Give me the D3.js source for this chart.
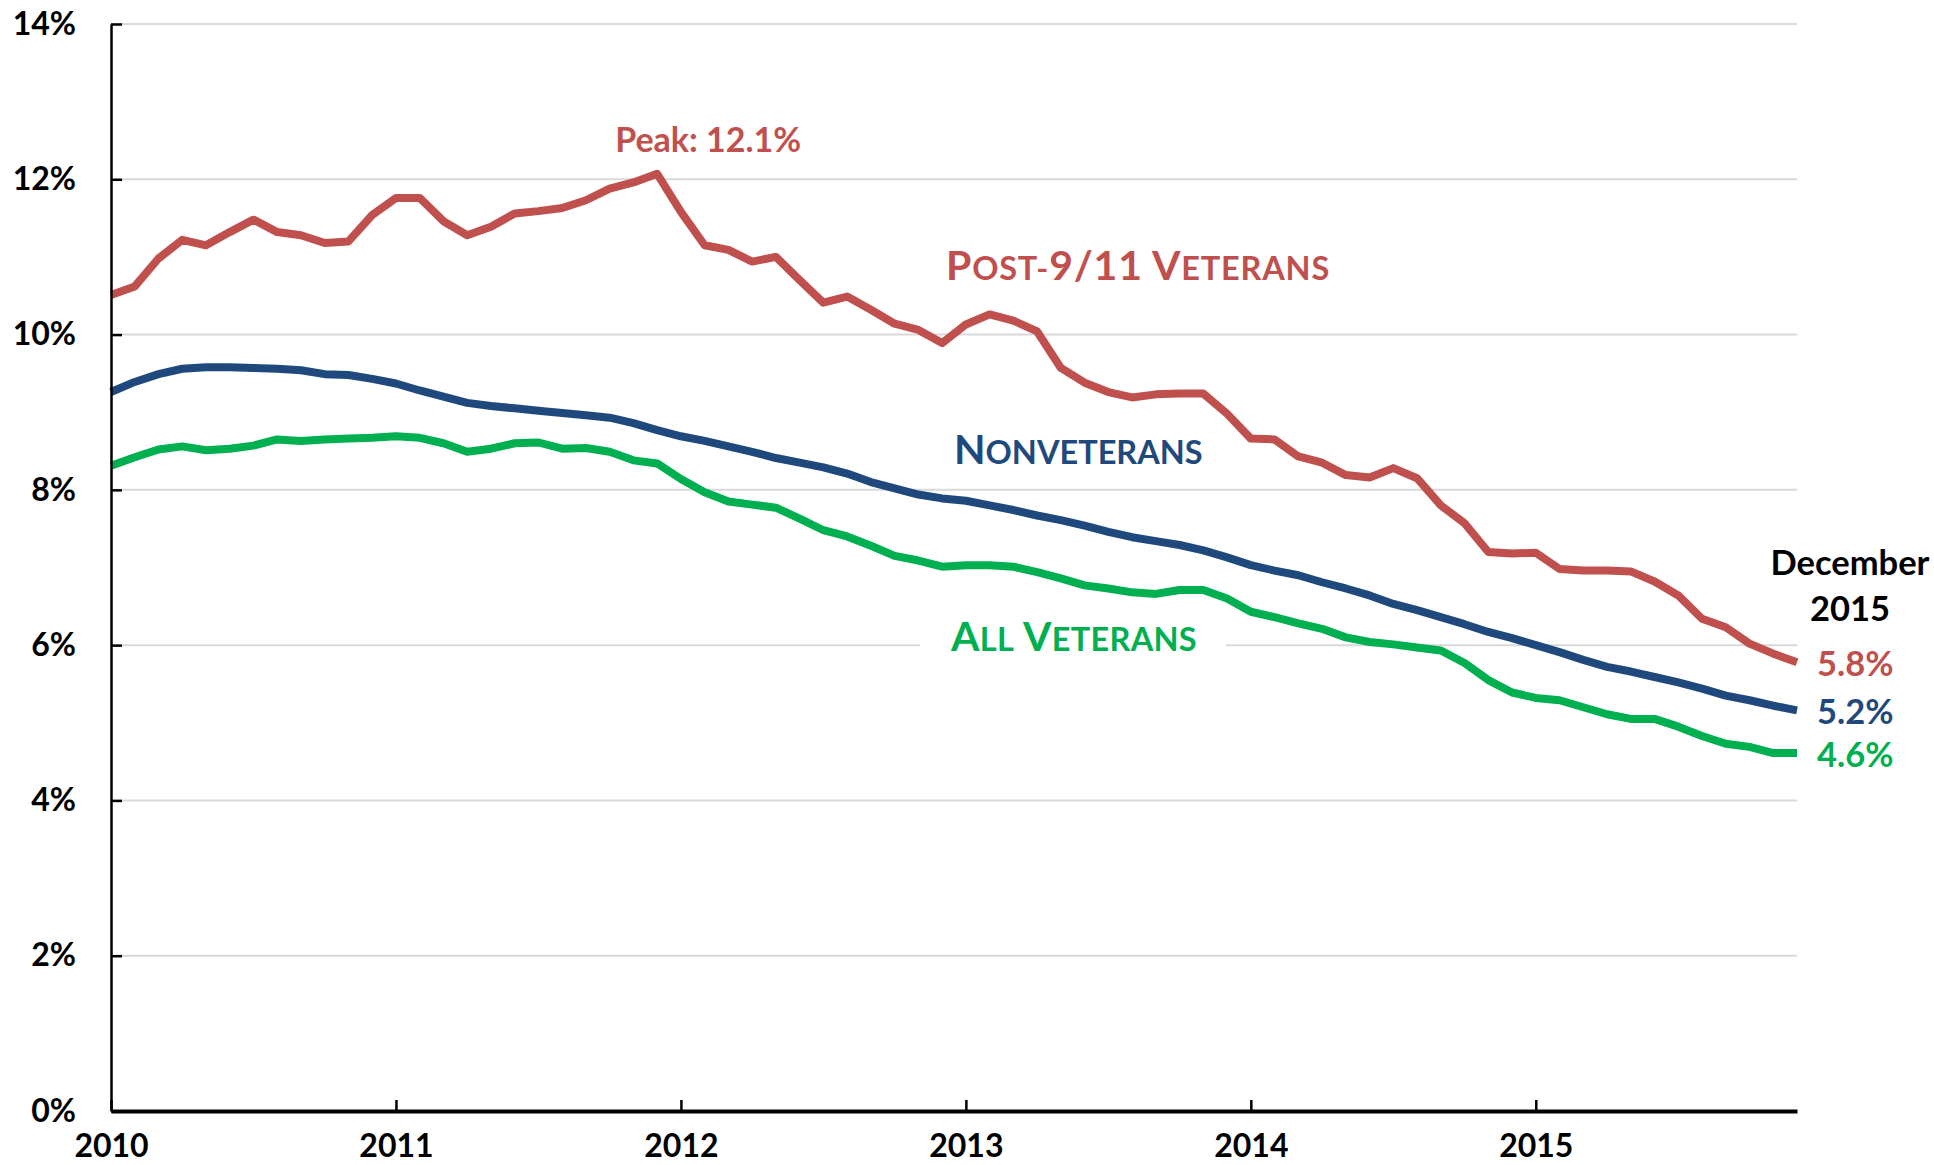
<!DOCTYPE html>
<html>
<head>
<meta charset="utf-8">
<script src="https://cdn.jsdelivr.net/npm/d3@7"></script>
<style>
	body { margin: 0; background: #fff; }
	svg { display: block; font-family: Lato, "Open Sans", sans-serif; font-weight: bold; }
</style>
</head>
<body>
<div id="chart"></div>
<script>
// monthly values, Jan 2010 - Dec 2015 (12-month averages, %)
const post911Rates = [
	10.51, 10.62, 10.98, 11.22, 11.15, 11.32, 11.48, 11.32, 11.28, 11.18, 11.20, 11.54,
	11.76, 11.76, 11.46, 11.28, 11.39, 11.56, 11.59, 11.63, 11.73, 11.88, 11.96, 12.07,
	11.58, 11.15, 11.09, 10.94, 11.00, 10.70, 10.41, 10.49, 10.32, 10.14, 10.06, 9.89,
	10.13, 10.26, 10.18, 10.04, 9.57, 9.38, 9.26, 9.19, 9.23, 9.24, 9.24, 8.98,
	8.66, 8.65, 8.43, 8.35, 8.19, 8.16, 8.28, 8.15, 7.80, 7.57, 7.20, 7.18,
	7.19, 6.98, 6.96, 6.96, 6.95, 6.82, 6.64, 6.34, 6.23, 6.02, 5.89, 5.78
];

const nonveteranRates = [
	9.26, 9.39, 9.49, 9.56, 9.58, 9.58, 9.57, 9.56, 9.54, 9.49, 9.48, 9.43,
	9.37, 9.28, 9.20, 9.12, 9.08, 9.05, 9.02, 8.99, 8.96, 8.93, 8.86, 8.77,
	8.69, 8.63, 8.56, 8.49, 8.41, 8.35, 8.29, 8.21, 8.10, 8.02, 7.94, 7.89,
	7.86, 7.80, 7.74, 7.67, 7.61, 7.54, 7.46, 7.39, 7.34, 7.29, 7.22, 7.13,
	7.03, 6.96, 6.90, 6.81, 6.73, 6.64, 6.53, 6.45, 6.36, 6.27, 6.17, 6.09,
	6.00, 5.91, 5.81, 5.72, 5.66, 5.59, 5.52, 5.44, 5.35, 5.29, 5.22, 5.16
];

const allVeteranRates = [
	8.31, 8.42, 8.52, 8.56, 8.51, 8.53, 8.57, 8.65, 8.63, 8.65, 8.66, 8.67,
	8.69, 8.67, 8.60, 8.49, 8.53, 8.60, 8.61, 8.53, 8.54, 8.49, 8.38, 8.34,
	8.14, 7.97, 7.85, 7.81, 7.77, 7.63, 7.48, 7.40, 7.28, 7.15, 7.09, 7.01,
	7.03, 7.03, 7.01, 6.94, 6.86, 6.77, 6.73, 6.68, 6.66, 6.71, 6.71, 6.60,
	6.43, 6.36, 6.28, 6.21, 6.10, 6.04, 6.01, 5.97, 5.93, 5.77, 5.55, 5.39,
	5.32, 5.29, 5.20, 5.11, 5.05, 5.05, 4.95, 4.83, 4.73, 4.69, 4.61, 4.61
];

const yearLabels = ["2010", "2011", "2012", "2013", "2014", "2015"];
const yTickValues = [0, 2, 4, 6, 8, 10, 12, 14];
const seriesNames = ["Post-9/11 Veterans", "Nonveterans", "All Veterans"];
const endLabelLines = ["December", "2015"];

const colors = { red: "#C0504D", blue: "#1F497D", green: "#00B050", grid: "#d9d9d9" };

class VeteranUnemploymentChart {
	constructor(settings) {
		Object.assign(this, settings);

		this.svg = d3.select(this.id)
			.append("svg")
			.attr("width", this.w)
			.attr("height", this.h);

		this.svg.append("rect")
			.attr("width", this.w)
			.attr("height", this.h)
			.attr("fill", "white");

		this.setScales();
		this.buildGrid();
		this.buildLines();
		this.buildAxes();
		this.buildLabels();
	}

	setScales() {
		let n = this.series[0].values.length;
		this.xScale = d3.scaleLinear().domain([0, n - 1]).range([this.margin.left, this.w - this.margin.right]);
		this.yScale = d3.scaleLinear().domain([0, 14]).range([this.h - this.margin.bottom, this.margin.top]);
	}

	buildGrid() {
		this.svg.append("g")
			.selectAll("line")
			.data(yTickValues.filter((d) => { return d > 0; }))
			.enter().append("line")
			.attr("x1", this.xScale.range()[0])
			.attr("x2", this.xScale.range()[1])
			.attr("y1", (d) => { return this.yScale(d); })
			.attr("y2", (d) => { return this.yScale(d); })
			.attr("stroke", colors.grid)
			.attr("stroke-width", 2);
	}

	buildLines() {
		let line = d3.line()
			.x((d, i) => { return this.xScale(i); })
			.y((d) => { return this.yScale(d); });

		this.svg.append("g")
			.selectAll("path")
			.data(this.series.slice().reverse())
			.enter().append("path")
			.attr("d", (d) => { return line(d.values); })
			.attr("fill", "none")
			.attr("stroke", (d) => { return d.color; })
			.attr("stroke-width", 8)
			.attr("stroke-linejoin", "round");
	}

	buildAxes() {
		let yAxis = d3.axisLeft(this.yScale)
			.tickValues(yTickValues)
			.tickSizeInner(-11)
			.tickSizeOuter(0)
			.tickPadding(35)
			.tickFormat((d) => { return d + "%"; });

		let yG = this.svg.append("g")
			.attr("transform", "translate(" + this.margin.left + ",0)")
			.call(yAxis);

		yG.select(".domain").attr("stroke", "black").attr("stroke-width", 2.5);
		yG.selectAll(".tick line").attr("stroke", "black").attr("stroke-width", 2.5);
		yG.selectAll(".tick text")
			.attr("fill", "black")
			.style("font-size", "32px")
			.style("font-family", "Lato")
			.style("font-weight", "bold");

		let xAxis = d3.axisBottom(this.xScale)
			.tickValues(yearLabels.map((d, i) => { return i * 12; }))
			.tickSizeInner(-11)
			.tickSizeOuter(0)
			.tickPadding(23)
			.tickFormat((d, i) => { return yearLabels[i]; });

		let xG = this.svg.append("g")
			.attr("transform", "translate(0," + this.yScale(0) + ")")
			.call(xAxis);

		xG.select(".domain").attr("stroke", "black").attr("stroke-width", 4);
		xG.selectAll(".tick line").attr("stroke", "black").attr("stroke-width", 2.5);
		xG.selectAll(".tick text")
			.attr("fill", "black")
			.style("font-size", "32px")
			.style("font-family", "Lato")
			.style("font-weight", "bold");
	}

	// capitals and digits big, the rest as small capitals
	addSmallCaps(textSel, label, bigSize, smallSize) {
		let runs = [];
		label.split("").forEach((ch) => {
			let big = /[A-Z0-9\/ ]/.test(ch);
			if (runs.length && runs[runs.length - 1].big == big) {
				runs[runs.length - 1].text += ch.toUpperCase();
			} else {
				runs.push({ big: big, text: ch.toUpperCase() });
			}
		});
		textSel.selectAll("tspan")
			.data(runs)
			.enter().append("tspan")
			.style("font-size", (d) => { return (d.big ? bigSize : smallSize) + "px"; })
			.text((d) => { return d.text; });
	}

	buildLabels() {
		let peakIndex = d3.maxIndex(this.series[0].values);
		let peakValue = this.series[0].values[peakIndex];

		this.svg.append("text")
			.attr("x", this.xScale(peakIndex) + 51)
			.attr("y", this.yScale(peakValue) - 22)
			.attr("text-anchor", "middle")
			.attr("fill", colors.red)
			.style("font-size", "34px")
			.text("Peak: " + d3.format(".1f")(peakValue) + "%");

		// white box under the all veterans label hides the grid line
		let allVets = this.series[2];
		this.svg.append("rect")
			.attr("x", allVets.labelPos[0] - 31)
			.attr("y", allVets.labelPos[1] - 28)
			.attr("width", 306)
			.attr("height", 36)
			.attr("fill", "white");

		this.series.forEach((s) => {
			let t = this.svg.append("text")
				.attr("x", s.labelPos[0])
				.attr("y", s.labelPos[1])
				.attr("fill", s.color)
				.style("letter-spacing", s.spacing + "px");
			this.addSmallCaps(t, s.name, 41, 32.5);
		});

		let last = this.series[0].values.length - 1;

		this.svg.append("g")
			.selectAll("text")
			.data(endLabelLines)
			.enter().append("text")
			.attr("x", this.xScale(last) + 53)
			.attr("y", (d, i) => { return 575 + i * 46; })
			.attr("text-anchor", "middle")
			.attr("fill", "black")
			.style("font-size", "34.5px")
			.text((d) => { return d; });

		this.svg.append("g")
			.selectAll("text")
			.data(this.series)
			.enter().append("text")
			.attr("x", this.xScale(last) + 20)
			.attr("y", (d) => { return this.yScale(d.values[last]) + 14; })
			.attr("fill", (d) => { return d.color; })
			.style("font-size", "34.5px")
			.text((d) => { return d3.format(".1f")(d.values[last]) + "%"; });
	}
}

let chart = new VeteranUnemploymentChart({
	id: "#chart",
	w: 1934,
	h: 1165,
	margin: { top: 24, right: 137, bottom: 54, left: 111 },
	series: [
		{ name: seriesNames[0], values: post911Rates, color: colors.red, labelPos: [946, 280], spacing: 0.8 },
		{ name: seriesNames[1], values: nonveteranRates, color: colors.blue, labelPos: [954, 464], spacing: 0 },
		{ name: seriesNames[2], values: allVeteranRates, color: colors.green, labelPos: [951, 651], spacing: 0.3 }
	]
});
</script>
</body>
</html>
